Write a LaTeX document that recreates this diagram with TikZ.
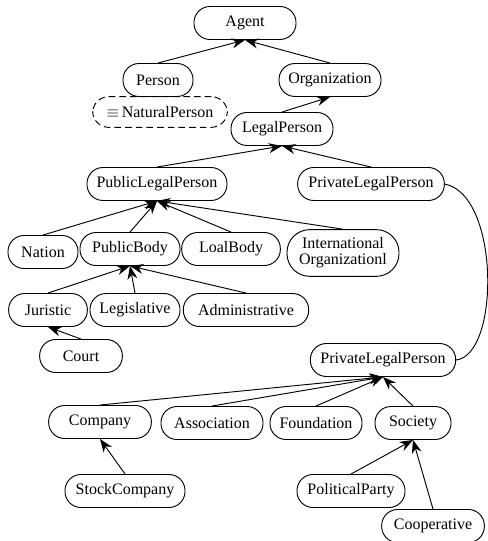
\documentclass[tikz,border=0pt]{standalone}
\usepackage{fontspec}
\setmainfont{Liberation Serif}
\usetikzlibrary{arrows.meta}

\begin{document}
\begin{tikzpicture}[x=0.75pt, y=-0.75pt, line width=0.7pt, >={Stealth[length=10pt,width=7.5pt]},
  cls/.style={draw, rounded corners=12pt, minimum height=24.75pt, inner xsep=4pt, font=\fontsize{12}{12}\selectfont}]

\useasboundingbox (0,0) rectangle (487,541);

% Top classes
\node[cls, minimum width=76.5pt] (A) at (245,23) {Agent};
\node[cls, minimum width=52.5pt] (P) at (158,80) {Person};
\node[cls, dash pattern=on 5pt off 3pt, minimum width=101pt, minimum height=23pt] (NP) at (160,112) {$\equiv$\,NaturalPerson};
\node[cls, minimum width=76.5pt] (O) at (330,80) {Organization};
\node[cls, minimum width=76.5pt] (LP) at (282,129) {LegalPerson};

% Public and private legal persons
\node[cls, minimum width=105pt] (PuLP) at (157,184) {PublicLegalPerson};
\node[cls, minimum width=110pt] (PrLP) at (371,184) {PrivateLegalPerson};

% Public side
\node[cls, minimum width=52.5pt] (N) at (43,252) {Nation};
\node[cls, minimum width=75pt] (PB) at (130,249) {PublicBody};
\node[cls, minimum width=74pt] (LB) at (231,249) {LoalBody};
\node[cls, minimum width=84pt, minimum height=35pt, rounded corners=17pt, align=center] (IO) at (343,253) {International\\Organizationl};
\node[cls, minimum width=59pt] (J) at (48,310) {Juristic};
\node[cls, minimum width=67.5pt] (L) at (135,310) {Legislative};
\node[cls, minimum width=94pt] (Ad) at (246,310) {Administrative};
\node[cls, minimum width=62pt] (C) at (81,356) {Court};

% Private side
\node[cls, minimum width=109pt] (PrLP2) at (383,360) {PrivateLegalPerson};
\node[cls, minimum width=77pt] (Co) at (100,422) {Company};
\node[cls, minimum width=76.5pt] (As) at (212,423) {Association};
\node[cls, minimum width=69pt] (F) at (316,423) {Foundation};
\node[cls, minimum width=57pt] (S) at (413,423) {Society};
\node[cls, minimum width=90pt] (SC) at (125,491) {StockCompany};
\node[cls, minimum width=81pt] (PP) at (351,491) {PoliticalParty};
\node[cls, minimum width=77pt] (Cp) at (433,526) {Cooperative};

% Connections
\draw[->] (P.north) -- (A.south);
\draw[->] (O.north) -- (A.south);
\draw[->] (LP.north) -- (O.south);
\draw[->] (PuLP.north) -- (LP.south);
\draw[->] (PrLP.north) -- (LP.south);
\draw[->] (N.north) -- (PuLP.south);
\draw[->] (PB.north) -- (PuLP.south);
\draw[->] (LB.north) -- (PuLP.south);
\draw[->] (IO.north) -- (PuLP.south);
\draw[->] (J.north) -- (PB.south);
\draw[->] (L.north) -- (PB.south);
\draw[->] (Ad.north) -- (PB.south);
\draw[->] (C.north) -- (J.south);
\draw[->] (Co.north) -- (PrLP2.south);
\draw[->] (As.north) -- (PrLP2.south);
\draw[->] (F.north) -- (PrLP2.south);
\draw[->] (S.north) -- (PrLP2.south);
\draw[->] (SC.north) -- (Co.south);
\draw[->] (PP.north) -- (S.south);
\draw[->] (Cp.north) -- (S.south);

% Same class link
\draw (PrLP.east) .. controls (500,195) and (500,355) .. (PrLP2.east);

\end{tikzpicture}
\end{document}
